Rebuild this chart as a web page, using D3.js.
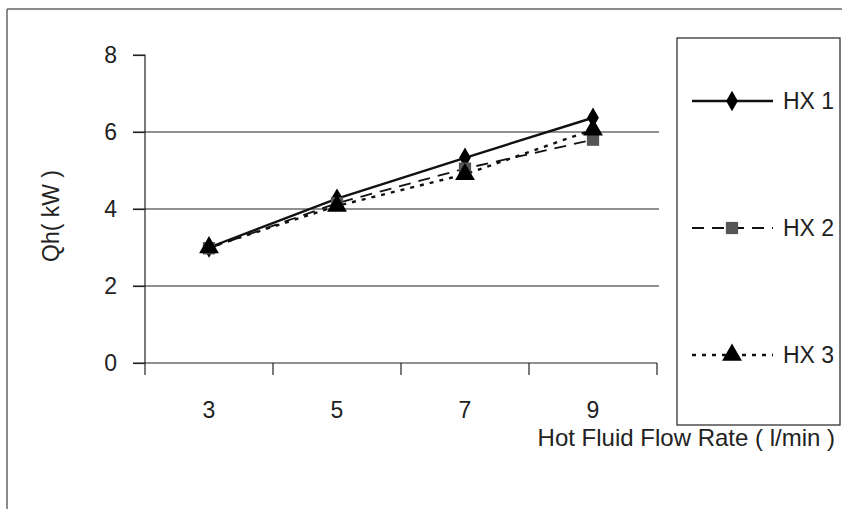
<!DOCTYPE html>
<html>
<head>
<meta charset="utf-8">
<script src="https://cdn.jsdelivr.net/npm/d3@7"></script>
<style>
  body { margin: 0; background: #fff; }
  svg { font-family: "Liberation Sans", Arial, sans-serif; }
</style>
</head>
<body>
<div id="chart"></div>
<script>
// Chart data
const flowRates = ["3", "5", "7", "9"];
const seriesNames = ["HX 1", "HX 2", "HX 3"];
const hx1 = [3.0, 4.27, 5.33, 6.37];
const hx2 = [2.98, 4.15, 5.05, 5.8];
const hx3 = [3.0, 4.08, 4.9, 6.06];
const yTicks = [0, 2, 4, 6, 8];

const width = 842, height = 509;

let svg = d3.select("#chart").append("svg")
    .attr("width", width)
    .attr("height", height);

// Outer frame (only top and left edges are visible)
svg.append("line").attr("x1", 7).attr("y1", 9).attr("x2", 842).attr("y2", 9)
    .attr("stroke", "#666").attr("stroke-width", 1.5);
svg.append("line").attr("x1", 7).attr("y1", 9).attr("x2", 7).attr("y2", 509)
    .attr("stroke", "#666").attr("stroke-width", 1.5);

// Scales
let x = d3.scaleBand()
    .domain(flowRates)
    .range([145, 657]);

let y = d3.scaleLinear()
    .domain([0, 8])
    .range([363, 55]);

// Gridlines
svg.append("g")
    .selectAll("line")
    .data(yTicks.filter(d => d > 0 && d < 8))
    .join("line")
    .attr("x1", 133)
    .attr("x2", 659)
    .attr("y1", d => y(d))
    .attr("y2", d => y(d))
    .attr("stroke", "#222")
    .attr("stroke-width", 1.2);

// Y axis
let yAxis = d3.axisLeft(y)
    .tickValues(yTicks)
    .tickSize(12)
    .tickPadding(16)
    .tickFormat(d3.format("d"));
let yG = svg.append("g")
    .attr("transform", "translate(145,0)")
    .call(yAxis);
yG.select(".domain").attr("stroke", "#222").attr("stroke-width", 1.2)
    .attr("d", "M-12," + y(8) + "H0V" + y(0));
yG.selectAll(".tick line").attr("stroke", "#222").attr("stroke-width", 1.2);
yG.selectAll(".tick text")
    .style("font-size", "23px")
    .attr("fill", "#222");

// X axis (ticks at category boundaries)
let xAxisG = svg.append("g");
xAxisG.append("line")
    .attr("x1", 133).attr("x2", x.range()[1])
    .attr("y1", y(0)).attr("y2", y(0))
    .attr("stroke", "#222").attr("stroke-width", 1.2);
let boundaries = flowRates.map(d => x(d)).concat([x.range()[1]]);
xAxisG.selectAll(".xtick")
    .data(boundaries)
    .join("line")
    .attr("class", "xtick")
    .attr("x1", d => d).attr("x2", d => d)
    .attr("y1", y(0)).attr("y2", y(0) + 12)
    .attr("stroke", "#222").attr("stroke-width", 1.2);
xAxisG.selectAll(".xlabel")
    .data(flowRates)
    .join("text")
    .attr("class", "xlabel")
    .attr("x", d => x(d) + x.bandwidth() / 2)
    .attr("y", 418)
    .attr("text-anchor", "middle")
    .style("font-size", "23px")
    .attr("fill", "#222")
    .text(d => d);

// Axis titles
svg.append("text")
    .attr("x", 835)
    .attr("y", 446)
    .attr("text-anchor", "end")
    .style("font-size", "24px")
    .attr("fill", "#222")
    .text("Hot Fluid Flow Rate ( l/min )");

svg.append("text")
    .attr("transform", "translate(59,216) rotate(-90)")
    .attr("text-anchor", "middle")
    .style("font-size", "23px")
    .attr("fill", "#222")
    .text("Qh( kW )");

// Series lines and markers
let line = d3.line()
    .x((d, i) => x(flowRates[i]) + x.bandwidth() / 2)
    .y(d => y(d));

let styles = [
    {data: hx1, dash: null, symbol: d3.symbolDiamond, size: 120, fill: "#000", width: 2.4},
    {data: hx2, dash: "12,8", symbol: d3.symbolSquare, size: 150, fill: "#555", width: 1.8},
    {data: hx3, dash: "4,6", symbol: d3.symbolTriangle, size: 170, fill: "#000", width: 2.4}
];

for (let s of styles) {
    svg.append("path")
        .datum(s.data)
        .attr("fill", "none")
        .attr("stroke", "#111")
        .attr("stroke-width", s.width)
        .attr("stroke-dasharray", s.dash)
        .attr("d", line);
}
for (let s of styles) {
    svg.append("g")
        .selectAll("path")
        .data(s.data)
        .join("path")
        .attr("transform", (d, i) => "translate(" + (x(flowRates[i]) + x.bandwidth() / 2) + "," + y(d) + ")")
        .attr("d", d3.symbol().type(s.symbol).size(s.size))
        .attr("fill", s.fill);
}

// Legend
svg.append("rect")
    .attr("x", 677).attr("y", 38)
    .attr("width", 163).attr("height", 387)
    .attr("fill", "none")
    .attr("stroke", "#333")
    .attr("stroke-width", 1.3);

let legendY = [101, 228, 355];
seriesNames.forEach((name, i) => {
    let s = styles[i];
    let g = svg.append("g").attr("transform", "translate(0," + legendY[i] + ")");
    g.append("line")
        .attr("x1", 692).attr("x2", 773)
        .attr("y1", 0).attr("y2", 0)
        .attr("stroke", "#111")
        .attr("stroke-width", s.width)
        .attr("stroke-dasharray", s.dash);
    g.append("path")
        .attr("transform", "translate(732,0)")
        .attr("d", d3.symbol().type(s.symbol).size(s.size))
        .attr("fill", s.fill);
    g.append("text")
        .attr("x", 783)
        .attr("y", 8)
        .style("font-size", "23px")
        .attr("fill", "#222")
        .text(name);
});
</script>
</body>
</html>
